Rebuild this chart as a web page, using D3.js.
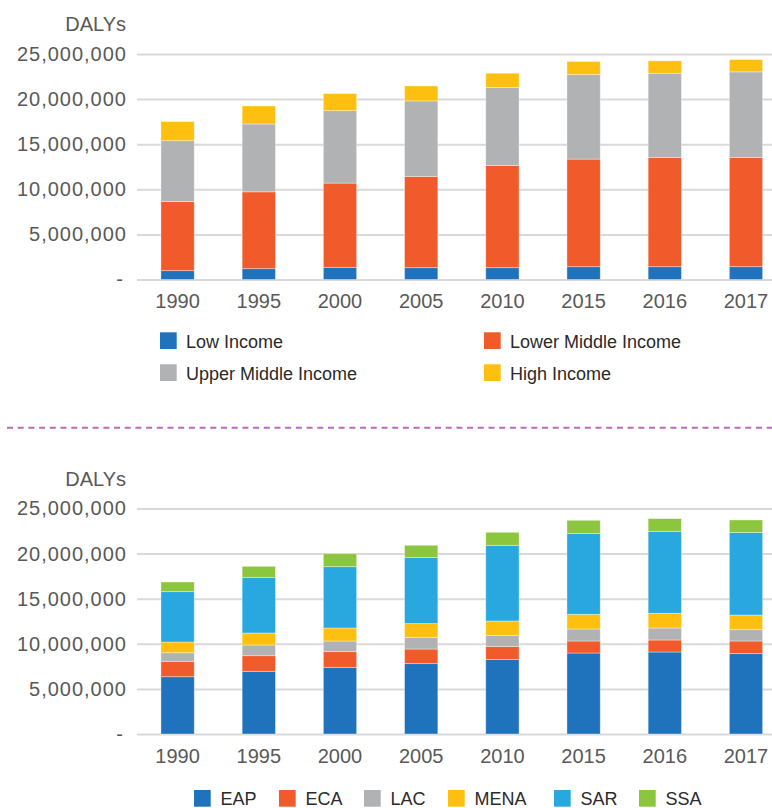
<!DOCTYPE html>
<html>
<head>
<meta charset="utf-8">
<script src="https://cdn.jsdelivr.net/npm/d3@7"></script>
<style>
  html, body { margin: 0; padding: 0; background: #fff; }
  svg { display: block; font-family: "Liberation Sans", Arial, Helvetica, sans-serif; }
</style>
</head>
<body>
<svg id="chart" width="772" height="808"></svg>
<script>
// ---------- DATA ----------
const years = ["1990", "1995", "2000", "2005", "2010", "2015", "2016", "2017"];
const yTicks = [0, 5000000, 10000000, 15000000, 20000000, 25000000];

// Top chart: by income group (DALYs)
const incomeGroups = ["Low Income", "Lower Middle Income", "Upper Middle Income", "High Income"];
const lowIncome          = [980000, 1200000, 1350000, 1310000, 1310000, 1420000, 1420000, 1420000];
const lowerMiddleIncome  = [7660000, 8520000, 9340000, 10120000, 11340000, 11930000, 12120000, 12120000];
const upperMiddleIncome  = [6750000, 7520000, 8030000, 8370000, 8650000, 9370000, 9330000, 9480000];
const highIncome         = [2110000, 2000000, 1890000, 1660000, 1570000, 1450000, 1370000, 1370000];
const incomeColors = ["#1f72bc", "#f15a2b", "#b1b2b4", "#fdc010"];

// Bottom chart: by region (DALYs)
const regions = ["EAP", "ECA", "LAC", "MENA", "SAR", "SSA"];
const eap  = [6350000, 6950000, 7390000, 7800000, 8250000, 8980000, 9090000, 8910000];
const eca  = [1710000, 1730000, 1740000, 1620000, 1440000, 1330000, 1330000, 1400000];
const lac  = [950000, 1190000, 1180000, 1270000, 1250000, 1330000, 1330000, 1260000];
const mena = [1190000, 1330000, 1440000, 1550000, 1590000, 1630000, 1630000, 1620000];
const sar  = [5580000, 6170000, 6800000, 7320000, 8390000, 8950000, 9090000, 9140000];
const ssa  = [1070000, 1220000, 1440000, 1360000, 1440000, 1470000, 1410000, 1400000];
const regionColors = ["#1f72bc", "#f15a2b", "#b1b2b4", "#fdc010", "#29a8e0", "#8cc63f"];

// ---------- DRAW ----------
const svg = d3.select("#chart");
const plotLeft = 137, plotRight = 772;

const x = d3.scaleBand()
  .domain(years)
  .range([plotLeft, 786.6])
  .paddingInner(0.59)
  .paddingOuter(0.295);

function drawChart(g, keys, seriesArrays, colors, yBottom, yTop) {
  const rows = years.map((yr, i) => {
    const r = { year: yr };
    keys.forEach((k, j) => r[k] = seriesArrays[j][i]);
    return r;
  });
  const y = d3.scaleLinear().domain([0, 25000000]).range([yBottom, yTop]);

  // DALYs label
  g.append("text")
    .attr("x", 126).attr("y", yTop - 23)
    .attr("text-anchor", "end")
    .attr("fill", "#595959")
    .style("font-size", "20px")
    .text("DALYs");

  // Y axis with gridlines
  const yAxis = d3.axisLeft(y)
    .tickValues(yTicks)
    .tickSize(-(plotRight - plotLeft))
    .tickPadding(11)
    .tickFormat(d => d === 0 ? "-" : d3.format(",")(d));
  const ya = g.append("g").attr("transform", `translate(${plotLeft},0)`).call(yAxis);
  ya.select(".domain").remove();
  ya.selectAll(".tick line").attr("stroke", "#d9d9d9").attr("stroke-width", 2);
  ya.selectAll(".tick text")
    .attr("fill", "#595959")
    .style("font-size", "20px")
    .style("letter-spacing", d => d === 0 ? "0px" : "1px")
    .attr("x", d => d === 0 ? -14 : -10);

  // Bars
  const stack = d3.stack().keys(keys);
  const series = stack(rows);
  g.append("g").selectAll("g")
    .data(series)
    .join("g")
    .attr("fill", (d, i) => colors[i])
    .selectAll("rect")
    .data(d => d)
    .join("rect")
    .attr("x", d => x(d.data.year))
    .attr("width", x.bandwidth())
    .attr("y", d => y(d[1]))
    .attr("height", d => y(d[0]) - y(d[1]))
    .attr("stroke", "rgba(255,255,255,0.45)")
    .attr("stroke-width", 0.8);

  // X axis
  const xAxis = d3.axisBottom(x).tickSizeInner(0).tickSizeOuter(0).tickPadding(14.6);
  const xa = g.append("g").attr("transform", `translate(0,${yBottom})`).call(xAxis);
  xa.select(".domain").remove();
  xa.selectAll(".tick text")
    .attr("fill", "#595959")
    .style("font-size", "20px");
}

drawChart(svg.append("g"), incomeGroups,
  [lowIncome, lowerMiddleIncome, upperMiddleIncome, highIncome],
  incomeColors, 279.5, 54);

drawChart(svg.append("g"), regions,
  [eap, eca, lac, mena, sar, ssa],
  regionColors, 734, 508.5);

// Top legend (2 columns)
const topLegendPos = [[160, 332.3], [484, 332.3], [160, 364.3], [484, 364.3]];
const tl = svg.append("g").selectAll("g")
  .data(incomeGroups)
  .join("g")
  .attr("transform", (d, i) => `translate(${topLegendPos[i][0]},${topLegendPos[i][1]})`);
tl.append("rect").attr("width", 16.7).attr("height", 16.7).attr("fill", (d, i) => incomeColors[i]);
tl.append("text").attr("x", 26).attr("y", 15.3)
  .attr("fill", "#2a2a2a").style("font-size", "18px").text(d => d);

// Dashed separator
svg.append("line")
  .attr("x1", 7).attr("x2", 772)
  .attr("y1", 427.7).attr("y2", 427.7)
  .attr("stroke", "#b86bb8").attr("stroke-width", 2)
  .attr("stroke-dasharray", "6,4.7");

// Bottom legend (single row)
const bottomLegendX = [194, 279, 364, 448, 554, 639];
const bl = svg.append("g").selectAll("g")
  .data(regions)
  .join("g")
  .attr("transform", (d, i) => `translate(${bottomLegendX[i]},790)`);
bl.append("rect").attr("width", 16.7).attr("height", 16.7).attr("fill", (d, i) => regionColors[i]);
bl.append("text").attr("x", 26.5).attr("y", 15.3)
  .attr("fill", "#2a2a2a").style("font-size", "18px").text(d => d);
</script>
</body>
</html>
